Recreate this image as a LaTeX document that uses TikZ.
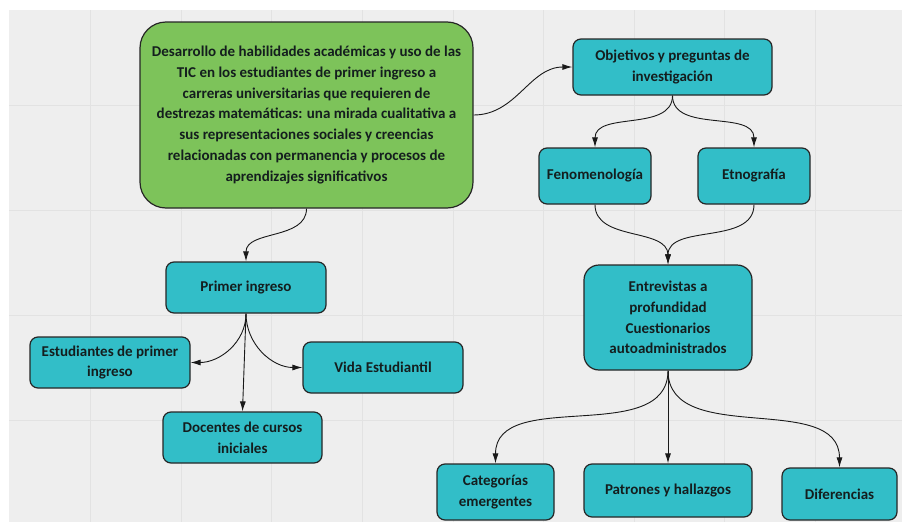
\documentclass[tikz,border=0pt]{standalone}
\usepackage{fontspec}
\setmainfont{Carlito}
\usepackage{tikz}
\usetikzlibrary{arrows.meta}
\usetikzlibrary{backgrounds}

\definecolor{tealbox}{RGB}{50,190,200}
\definecolor{greenbox}{RGB}{125,195,90}
\definecolor{textdark}{RGB}{20,30,30}
\definecolor{canvasgray}{RGB}{238,238,238}
\definecolor{gridgray}{RGB}{226,226,226}

\begin{document}
\begin{tikzpicture}[x=1pt,y=1pt,box/.style={draw=black!85,line width=1.2pt,rounded corners=8pt,fill=tealbox,align=center,text=textdark,inner sep=0pt,font=\bfseries\fontsize{15}{20.8}\selectfont},bigbox/.style={box,fill=greenbox,rounded corners=26pt},link/.style={-{Latex[length=10pt,width=6pt]},line width=0.9pt,draw=black!90}]
	
	\useasboundingbox (0,0) rectangle (902,-522);
	\fill[white] (0,0) rectangle (902,-522);
	\fill[canvasgray] (9,-10) rectangle (902,-522);
	\foreach \gx in {1,...,9}
		\draw[gridgray,line width=0.8pt] (90.6*\gx,-10) -- (90.6*\gx,-522);
	\foreach \gy in {1,...,4}
		\draw[gridgray,line width=0.8pt] (9,-105*\gy) -- (902,-105*\gy);
	
	\node[bigbox,minimum width=333pt,minimum height=186pt] (tema) at (306.5,-115) {Desarrollo de habilidades académicas y uso de las\\TIC en los estudiantes de primer ingreso a\\carreras universitarias que requieren de\\destrezas matemáticas: una mirada cualitativa a\\sus representaciones sociales y creencias\\relacionadas con permanencia y procesos de\\aprendizajes significativos};
	\node[box,minimum width=199pt,minimum height=56pt] (objetivos) at (672.5,-67) {Objetivos y preguntas de\\investigación};
	\node[box,minimum width=112pt,minimum height=56pt] (fenomeno) at (595,-176) {Fenomenología};
	\node[box,minimum width=112pt,minimum height=56pt] (etno) at (754,-176) {Etnografía};
	\node[box,minimum width=168pt,minimum height=105pt,rounded corners=15pt] (entrevistas) at (668,-317.5) {Entrevistas a\\profundidad\\Cuestionarios\\autoadministrados};
	\node[box,minimum width=117pt,minimum height=56pt] (categorias) at (495.5,-492) {Categorías\\emergentes};
	\node[box,minimum width=168pt,minimum height=53pt] (patrones) at (668,-490.5) {Patrones y hallazgos};
	\node[box,minimum width=115pt,minimum height=52pt] (diferencias) at (839.5,-494) {Diferencias};
	
	\node[box,minimum width=160pt,minimum height=51pt] (primer) at (246,-287.5) {Primer ingreso};
	\node[box,minimum width=160pt,minimum height=51pt] (estudiantes) at (110,-362.5) {Estudiantes de primer\\ingreso};
	\node[box,minimum width=160pt,minimum height=51pt] (vida) at (383,-367.5) {Vida Estudiantil};
	\node[box,minimum width=159pt,minimum height=51pt] (docentes) at (242.5,-437.5) {Docentes de cursos\\iniciales};
	
	\draw[link] (tema.east) to[out=0,in=180] (objetivos.west);
	\draw[link] (tema.south) to[out=-90,in=90] (primer.north);
	\draw[link] (primer.south) to[out=-90,in=0] (estudiantes.east);
	\draw[link] (primer.south) to[out=-90,in=180] (vida.west);
	\draw[link] (primer.south) -- (docentes.north);
	
	\draw[link] (objetivos.south) to[out=-90,in=90] (fenomeno.north);
	\draw[link] (objetivos.south) to[out=-90,in=90] (etno.north);
	\draw[link] (fenomeno.south) to[out=-90,in=90] (entrevistas.north);
	\draw[link] (etno.south) to[out=-90,in=90] (entrevistas.north);
	
	\draw[link] (entrevistas.south) to[out=-90,in=90] (categorias.north);
	\draw[link] (entrevistas.south) -- (patrones.north);
	\draw[link] (entrevistas.south) to[out=-90,in=90] (diferencias.north);
	\end{tikzpicture}
\end{document}
